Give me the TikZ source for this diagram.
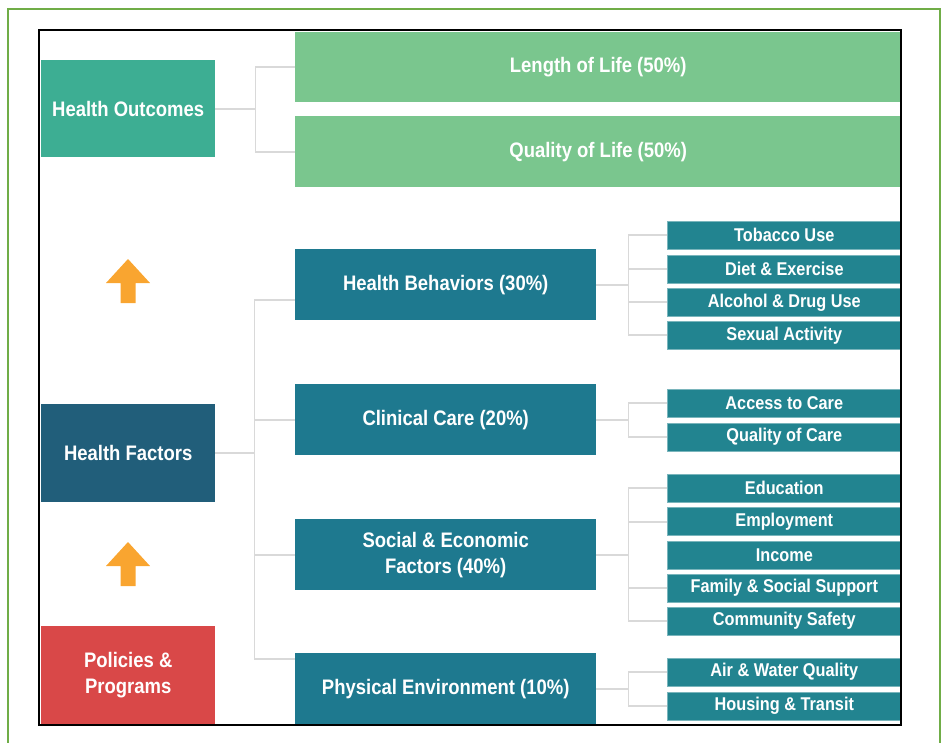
\documentclass[tikz,border=0pt]{standalone}
\usepackage{fontspec}
\setmainfont{Liberation Sans}[FakeStretch=0.88]
\usepackage{tikz}

\definecolor{framegreen}{RGB}{112,173,71}
\definecolor{outcomegreen}{RGB}{61,174,147}
\definecolor{lifegreen}{RGB}{122,198,142}
\definecolor{factorblue}{RGB}{33,94,122}
\definecolor{areateal}{RGB}{30,121,143}
\definecolor{itemteal}{RGB}{34,132,144}
\definecolor{policyred}{RGB}{217,72,72}
\definecolor{arroworange}{RGB}{249,165,48}
\definecolor{linkgray}{RGB}{217,217,217}

\tikzset{
  bigbox/.style={anchor=north west, inner sep=0pt, text=white,
    align=center, font=\fontsize{21}{26}\selectfont\bfseries},
  itembox/.style={anchor=north west, inner sep=0pt, text=white,
    minimum width=234pt, minimum height=28pt, fill=itemteal,
    draw=itemteal!60!white, line width=0.6pt,
    font=\fontsize{18.5}{22}\selectfont\bfseries},
  link/.style={linkgray, line width=1.8pt}
}

\begin{document}
\begin{tikzpicture}[x=1pt,y=-1pt]

      \useasboundingbox (0,0) rectangle (945,742);

      % outer green frame
      \draw[framegreen, line width=2pt] (8,9) rectangle (940,760);

      % The outcomes column.
      \node[bigbox, fill=outcomegreen, minimum width=174pt,
      minimum height=97pt] (ho) at (41,60) {Health Outcomes};
      \node[bigbox, fill=lifegreen, minimum width=606pt,
      minimum height=70pt] (lol) at (295,32) {Length of Life (50\%)};
      \node[bigbox, fill=lifegreen, minimum width=606pt,
      minimum height=71pt] (qol) at (295,116) {Quality of Life (50\%)};

      % Tree from the outcomes box.
      \draw[link] (ho.east) -- ++(40,0) coordinate (hobus);
      \draw[link] (lol.west) -| (hobus) |- (qol.west);

      % The factors and the policies boxes.
      \node[bigbox, fill=factorblue, minimum width=174pt,
      minimum height=98pt] (hf) at (41,404) {Health Factors};
      \node[bigbox, fill=policyred, minimum width=174pt,
      minimum height=98pt] (pp) at (41,626) {Policies \&\\Programs};

      % The two up arrows between the left boxes.
      \fill[arroworange] (128,259) -- (150,283) -- (135.5,283)
      -- (135.5,303) -- (120.5,303) -- (120.5,283) -- (106,283) -- cycle;
      \fill[arroworange] (128,542) -- (150,566) -- (135.5,566)
      -- (135.5,586) -- (120.5,586) -- (120.5,566) -- (106,566) -- cycle;

      % The four factor areas.
      \node[bigbox, fill=areateal, minimum width=301pt,
      minimum height=71pt] (hb) at (295,249) {Health Behaviors (30\%)};
      \node[bigbox, fill=areateal, minimum width=301pt,
      minimum height=71pt] (cc) at (295,384) {Clinical Care (20\%)};
      \node[bigbox, fill=areateal, minimum width=301pt,
      minimum height=71pt] (se) at (295,519) {Social \& Economic\\Factors (40\%)};
      \node[bigbox, fill=areateal, minimum width=301pt,
      minimum height=72pt] (pe) at (295,653) {Physical Environment (10\%)};

      % Tree from the factors box.
      \draw[link] (hf.east) -- ++(39,0) coordinate (hfbus);
      \draw[link] ([yshift=-15.5pt]hb.west) -| (hfbus)
      |- ([yshift=30.5pt]pe.west);
      \draw[link] (hfbus |- cc.west) -- (cc.west);
      \draw[link] (hfbus |- se.west) -- (se.west);

      % Health behaviors items.
      \node[itembox] (tob) at (667,221) {Tobacco Use};
      \node[itembox] (diet) at (667,254.5) {Diet \& Exercise};
      \node[itembox] (alc) at (667,288) {Alcohol \& Drug Use};
      \node[itembox] (sex) at (667,321) {Sexual Activity};
      \draw[link] (hb.east) -- ++(32,0) coordinate (hbbus);
      \draw[link] (tob.west) -| (hbbus) |- (sex.west);
      \draw[link] (hbbus |- diet.west) -- (diet.west);
      \draw[link] (hbbus |- alc.west) -- (alc.west);

      % Clinical care items.
      \node[itembox] (acc) at (667,389) {Access to Care};
      \node[itembox] (qoc) at (667,422.5) {Quality of Care};
      \draw[link] (cc.east) -- ++(32,0) coordinate (ccbus);
      \draw[link] (acc.west) -| (ccbus) |- (qoc.west);

      % Social and economic items.
      \node[itembox] (edu) at (667,474) {Education};
      \node[itembox] (emp) at (667,507.3) {Employment};
      \node[itembox] (inc) at (667,540.5) {Income};
      \node[itembox] (fam) at (667,573.5) {Family \& Social Support};
      \node[itembox] (com) at (667,606.7) {Community Safety};
      \draw[link] (se.east) -- ++(32,0) coordinate (sebus);
      \draw[link] (edu.west) -| (sebus) |- (com.west);
      \draw[link] (sebus |- emp.west) -- (emp.west);
      \draw[link] (sebus |- fam.west) -- (fam.west);

      % Physical environment items.
      \node[itembox] (air) at (667,657.5) {Air \& Water Quality};
      \node[itembox] (hou) at (667,691.5) {Housing \& Transit};
      \draw[link] (pe.east) -- ++(32,0) coordinate (pebus);
      \draw[link] (air.west) -| (pebus) |- (hou.west);

      % inner black frame, on top of the boxes
      \draw[black, line width=2pt] (39,30) rectangle (901,725);
    \end{tikzpicture}
\end{document}
